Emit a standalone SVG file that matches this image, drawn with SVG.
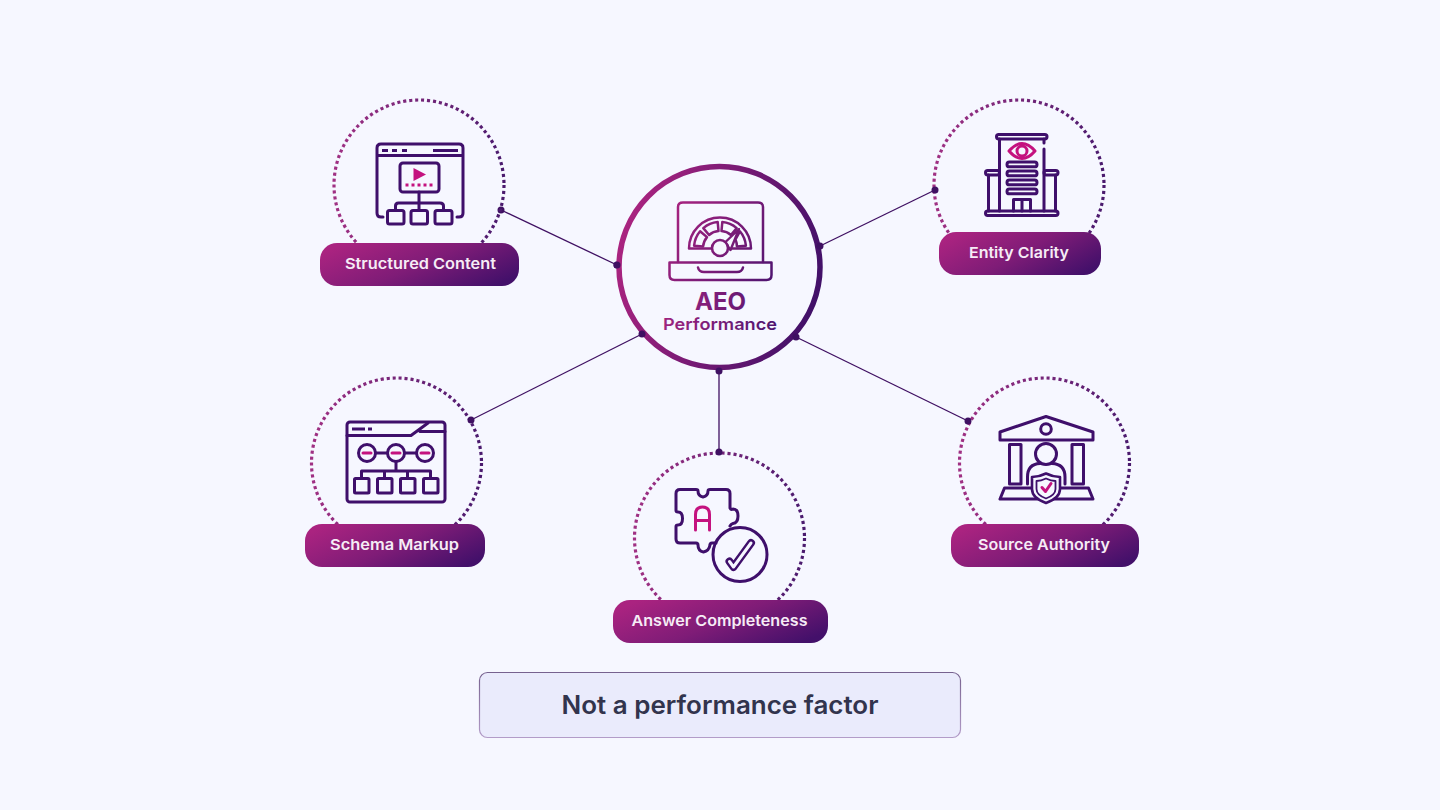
<svg xmlns="http://www.w3.org/2000/svg" width="1440" height="810" viewBox="0 0 1440 810">
<style>
.pill{fill:url(#pg)}
.pt{font-family:"Inter","Liberation Sans",sans-serif;font-weight:600;font-size:15px;fill:#f6ecf6;text-anchor:middle}
.dot{fill:none;stroke-width:3.2;stroke-dasharray:3.100 2.900}
.i{fill:none;stroke:#3f0f6b;stroke-width:3;stroke-linecap:round;stroke-linejoin:round}
.m{fill:none;stroke:#c4127f;stroke-width:3;stroke-linecap:round;stroke-linejoin:round}
.c{stroke:#3f1062;stroke-width:1.3;fill:none}
.e{fill:#3f1062}
.a{fill:none;stroke:url(#ig);stroke-width:2.5;stroke-linecap:round;stroke-linejoin:round}
</style>
<defs>
<linearGradient id="pg" x1="0" y1="0.25" x2="1" y2="0.75"><stop offset="0" stop-color="#aa2380"/><stop offset="0.5" stop-color="#7f1c77"/><stop offset="1" stop-color="#43106a"/></linearGradient>
<linearGradient id="dg" x1="0" y1="0" x2="1" y2="0"><stop offset="0" stop-color="#a03083"/><stop offset="1" stop-color="#4a1a6e"/></linearGradient>
<linearGradient id="rg" gradientUnits="userSpaceOnUse" x1="616" y1="240" x2="823" y2="295"><stop offset="0" stop-color="#ac2480"/><stop offset="1" stop-color="#3f1068"/></linearGradient>
<linearGradient id="ig" gradientUnits="userSpaceOnUse" x1="669" y1="220" x2="772" y2="280"><stop offset="0" stop-color="#a5237f"/><stop offset="1" stop-color="#4f1470"/></linearGradient>
<linearGradient id="tg" gradientUnits="userSpaceOnUse" x1="663" y1="310" x2="777" y2="325"><stop offset="0" stop-color="#a0237f"/><stop offset="1" stop-color="#4f1470"/></linearGradient>
<linearGradient id="bs" x1="0" y1="0" x2="0" y2="1"><stop offset="0" stop-color="#77628f"/><stop offset="1" stop-color="#b39cc8"/></linearGradient>
</defs>
<rect width="1440" height="810" fill="#f6f7ff"/>

<g id="connectors">
<line class="c" x1="501" y1="210" x2="617" y2="265"/><circle class="e" cx="501" cy="210" r="3.5"/><circle class="e" cx="617" cy="265" r="3.5"/>
<line class="c" x1="935" y1="190" x2="820" y2="246"/>
<line class="c" x1="471" y1="420" x2="642" y2="334"/>
<line class="c" x1="968" y1="421" x2="796" y2="337"/>
<line class="c" x1="719" y1="371" x2="719" y2="452"/>
</g>

<g id="center">
<circle cx="719.5" cy="267" r="100.5" fill="#f6f7ff" stroke="url(#rg)" stroke-width="5.5"/>
<circle class="e" cx="617" cy="265" r="3.5"/><circle class="e" cx="820" cy="246" r="3.5"/><circle class="e" cx="642" cy="334" r="3.5"/><circle class="e" cx="796" cy="337" r="3.5"/><circle class="e" cx="719" cy="371" r="3.5"/>
<path class="a" d="M678 262V207Q678 202.500 683 202.500H758Q763 202.500 763 207V262"/>
<path class="a" d="M669.500 262.500H771.500V275Q771.500 280 766.500 280H674.500Q669.500 280 669.500 275Z"/>
<path class="a" d="M698 267.500Q699 272 704 272H737Q742 272 743 267.500"/>
<path class="a" d="M689 248.500A31 31 0 0 1 751 248.500Z"/>
<path class="a" d="M694.100 245.700A26 26 0 0 1 700.100 231.300L707 237.100A17 17 0 0 0 703.100 246.500Z"/>
<path class="a" d="M703.300 228.100A26 26 0 0 1 717.700 222.100L718.500 231.100A17 17 0 0 0 709.100 235Z"/>
<path class="a" d="M722.300 222.100A26 26 0 0 1 736.700 228.100L730.900 235A17 17 0 0 0 721.500 231.100Z"/>
<path class="a" d="M739.900 231.300A26 26 0 0 1 745.900 245.700L736.900 246.500A17 17 0 0 0 735.500 239.500Z"/>
<path d="M725 242.500L739 229L730.500 250Z" fill="#f6f7ff" stroke="url(#ig)" stroke-width="2.400" stroke-linejoin="round"/>
<circle cx="720" cy="248" r="8" fill="#f6f7ff" stroke="url(#ig)" stroke-width="2.600"/>
<text x="720.500" y="310" font-family="Inter,'Liberation Sans',sans-serif" font-weight="700" font-size="24" text-anchor="middle" fill="url(#tg)" textLength="51" lengthAdjust="spacingAndGlyphs">AEO</text>
<text x="720" y="330" font-family="Inter,'Liberation Sans',sans-serif" font-weight="600" font-size="16.500" text-anchor="middle" fill="url(#tg)" textLength="114" lengthAdjust="spacingAndGlyphs">Performance</text>
</g>

<g id="structured-content">
<circle class="dot" cx="419" cy="185" r="85" stroke="url(#dg)"/>
<path class="i" d="M383 217H381Q377 217 377 213V148Q377 144 381 144H459Q463 144 463 148V213Q463 217 459 217H457M377 155.500H463"/>
<path d="M382 150.500H388M392 150.500H397M402 150.500H407M433 150.500H458" stroke="#3f0f6b" stroke-width="3" fill="none"/>
<rect class="i" x="400" y="163" width="39" height="29" rx="3"/>
<path d="M413.500 168L426 174.500L413.500 181Z" fill="#c4127f"/>
<path d="M405.500 185H435" stroke="#c4127f" stroke-width="3" stroke-dasharray="3 3" fill="none"/>
<path class="i" d="M419 192V210M395.500 210V206Q395.500 203 398.500 203H440Q443.500 203 443.500 206V210"/>
<rect class="i" x="387.500" y="210.500" width="16.500" height="13.500" rx="2"/><rect class="i" x="411" y="210.500" width="16.500" height="13.500" rx="2"/><rect class="i" x="435" y="210.500" width="17" height="13.500" rx="2"/>
<rect class="pill" x="320" y="243" width="199" height="43" rx="17"/>
<text class="pt" x="420.500" y="269" textLength="151" lengthAdjust="spacingAndGlyphs">Structured Content</text>
</g>

<g id="entity-clarity">
<circle class="dot" cx="1019" cy="185" r="85" stroke="url(#dg)"/>
<rect class="i" x="996.500" y="134.500" width="50.500" height="4.500" rx="2.200"/>
<path class="i" d="M999.500 139V211M1044 139V143M1044 149V211"/>
<rect class="i" x="985.500" y="170.500" width="14" height="4.500" rx="2.200"/><rect class="i" x="1044" y="170.500" width="14" height="4.500" rx="2.200"/>
<path class="i" d="M988.500 175V211M1055.500 175V211"/>
<rect class="i" x="985.500" y="211" width="72.500" height="4.500" rx="2.200"/>
<path class="m" d="M1009 151Q1022 136 1035 151Q1022 166 1009 151Z"/><circle class="m" cx="1022" cy="151" r="5"/>
<rect class="i" x="1007" y="162" width="30" height="4.800" rx="2.400"/><rect class="i" x="1007" y="171" width="30" height="4.800" rx="2.400"/><rect class="i" x="1007" y="180" width="30" height="4.800" rx="2.400"/><rect class="i" x="1007" y="189" width="30" height="4.800" rx="2.400"/>
<path class="i" d="M1013.500 211V199.500H1030.500V211M1022 199.500V211"/>
<rect class="pill" x="939" y="232" width="162" height="43" rx="17"/>
<text class="pt" x="1019" y="258" textLength="100" lengthAdjust="spacingAndGlyphs">Entity Clarity</text>
<circle class="e" cx="935" cy="190" r="3.500"/>
</g>

<g id="schema-markup">
<circle class="dot" cx="396.500" cy="463" r="85" stroke="url(#dg)"/>
<rect class="i" x="347" y="422" width="98" height="80" rx="3"/>
<path class="i" d="M347 435.500H411L428 423M420 431.500H445"/>
<path d="M352 429H365M368 429H372" stroke="#3f0f6b" stroke-width="3" fill="none"/>
<circle class="i" cx="367" cy="453" r="8.500"/><circle class="i" cx="396" cy="453" r="8.500"/><circle class="i" cx="425" cy="453" r="8.500"/>
<path class="i" d="M375.500 453H387.500M404.500 453H416.500M396 461.500V471M361.500 478V471H430.500V478M384.500 471V478M407.500 471V478"/>
<path d="M363 453H371M392 453H400M421 453H429" stroke="#c4127f" stroke-width="3" stroke-linecap="round" fill="none"/>
<rect class="i" x="354.500" y="478.500" width="14.500" height="14.500" rx="1"/><rect class="i" x="377.500" y="478.500" width="14.500" height="14.500" rx="1"/><rect class="i" x="400.500" y="478.500" width="14.500" height="14.500" rx="1"/><rect class="i" x="423.500" y="478.500" width="14.500" height="14.500" rx="1"/>
<rect class="pill" x="305" y="524" width="180" height="43" rx="17"/>
<text class="pt" x="394.500" y="550" textLength="129" lengthAdjust="spacingAndGlyphs">Schema Markup</text>
<circle class="e" cx="471" cy="420" r="3.500"/>
</g>

<g id="answer-completeness">
<circle class="dot" cx="719.500" cy="538" r="85" stroke="url(#dg)"/>
<path class="i" d="M680 489.500H696Q698 489.500 698 491Q698 496 703 497Q708 496 708 491Q708 489.500 710 489.500H726Q730 489.500 730 493.500V508Q731 510 733 509Q738 509 738 516Q738 523 733 523.500Q731 524 730 526M676 505V493.500Q676 489.500 680 489.500M676 505V510.500Q676 512 678 512Q682.500 512 682.500 518.500Q682.500 525 678 525Q676 525 676 526.500V539Q676 543 680 543H696Q698 543 698 545Q698 551 703.500 552Q709 551 710 545Q710 543 712 543H716"/>
<path class="m" d="M695.500 530V514.500Q695.500 507 702.500 507Q709.500 507 709.500 514.500V530M695.500 520.500H709.500"/>
<circle class="i" cx="740" cy="554.500" r="27"/>
<path d="M729.500 561.500L733.500 567L751 543" fill="none" stroke="#3f0f6b" stroke-width="8" stroke-linecap="round" stroke-linejoin="round"/>
<path d="M729.500 561.500L733.500 567L751 543" fill="none" stroke="#f6f7ff" stroke-width="3" stroke-linecap="round" stroke-linejoin="round"/>
<rect class="pill" x="613" y="600" width="215" height="43" rx="17"/>
<text class="pt" x="719.500" y="626" textLength="176" lengthAdjust="spacingAndGlyphs">Answer Completeness</text>
<circle class="e" cx="719" cy="452" r="3.500"/>
</g>

<g id="source-authority">
<circle class="dot" cx="1044.500" cy="463" r="85" stroke="url(#dg)"/>
<path class="i" d="M1000 432L1046 416.500L1093 432V440H1000Z"/>
<circle class="i" cx="1046" cy="429" r="5.300"/>
<rect class="i" x="1009.500" y="444.500" width="11.500" height="39.500"/><rect class="i" x="1072" y="444.500" width="11.500" height="39.500"/>
<circle class="i" cx="1046" cy="454" r="10.500"/>
<path class="i" d="M1027.500 484V477Q1027.500 464 1040 463.500M1052 463.500Q1065 464 1065 477V484"/>
<path class="i" d="M1032 488H1004.500L1000 499H1093L1088.500 488H1060"/>
<path d="M1046 473.500Q1053 477 1060 477V489Q1060 498 1046 503Q1032 498 1032 489V477Q1039 477 1046 473.500Z" fill="#f6f7ff" stroke="#3f0f6b" stroke-width="2.600" stroke-linejoin="round"/>
<path class="i" style="stroke-width:1.800" d="M1046 478.500Q1051 481 1055.500 481V489Q1055.500 495 1046 498.500Q1036.500 495 1036.500 489V481Q1041 481 1046 478.500Z"/>
<path class="m" d="M1042 487.500L1045.500 491.500L1051 483.500"/>
<rect class="pill" x="951" y="524" width="188" height="43" rx="17"/>
<text class="pt" x="1044" y="550" textLength="132" lengthAdjust="spacingAndGlyphs">Source Authority</text>
<circle class="e" cx="968" cy="421" r="3.500"/>
</g>

<g id="note">
<rect x="479.500" y="672.500" width="481" height="65" rx="8" fill="#eaebfc" stroke="url(#bs)" stroke-width="1.200"/>
<text x="720" y="714" font-family="Inter,'Liberation Sans',sans-serif" font-weight="600" font-size="25" text-anchor="middle" fill="#32344d" textLength="317" lengthAdjust="spacingAndGlyphs">Not a performance factor</text>
</g>
</svg>
